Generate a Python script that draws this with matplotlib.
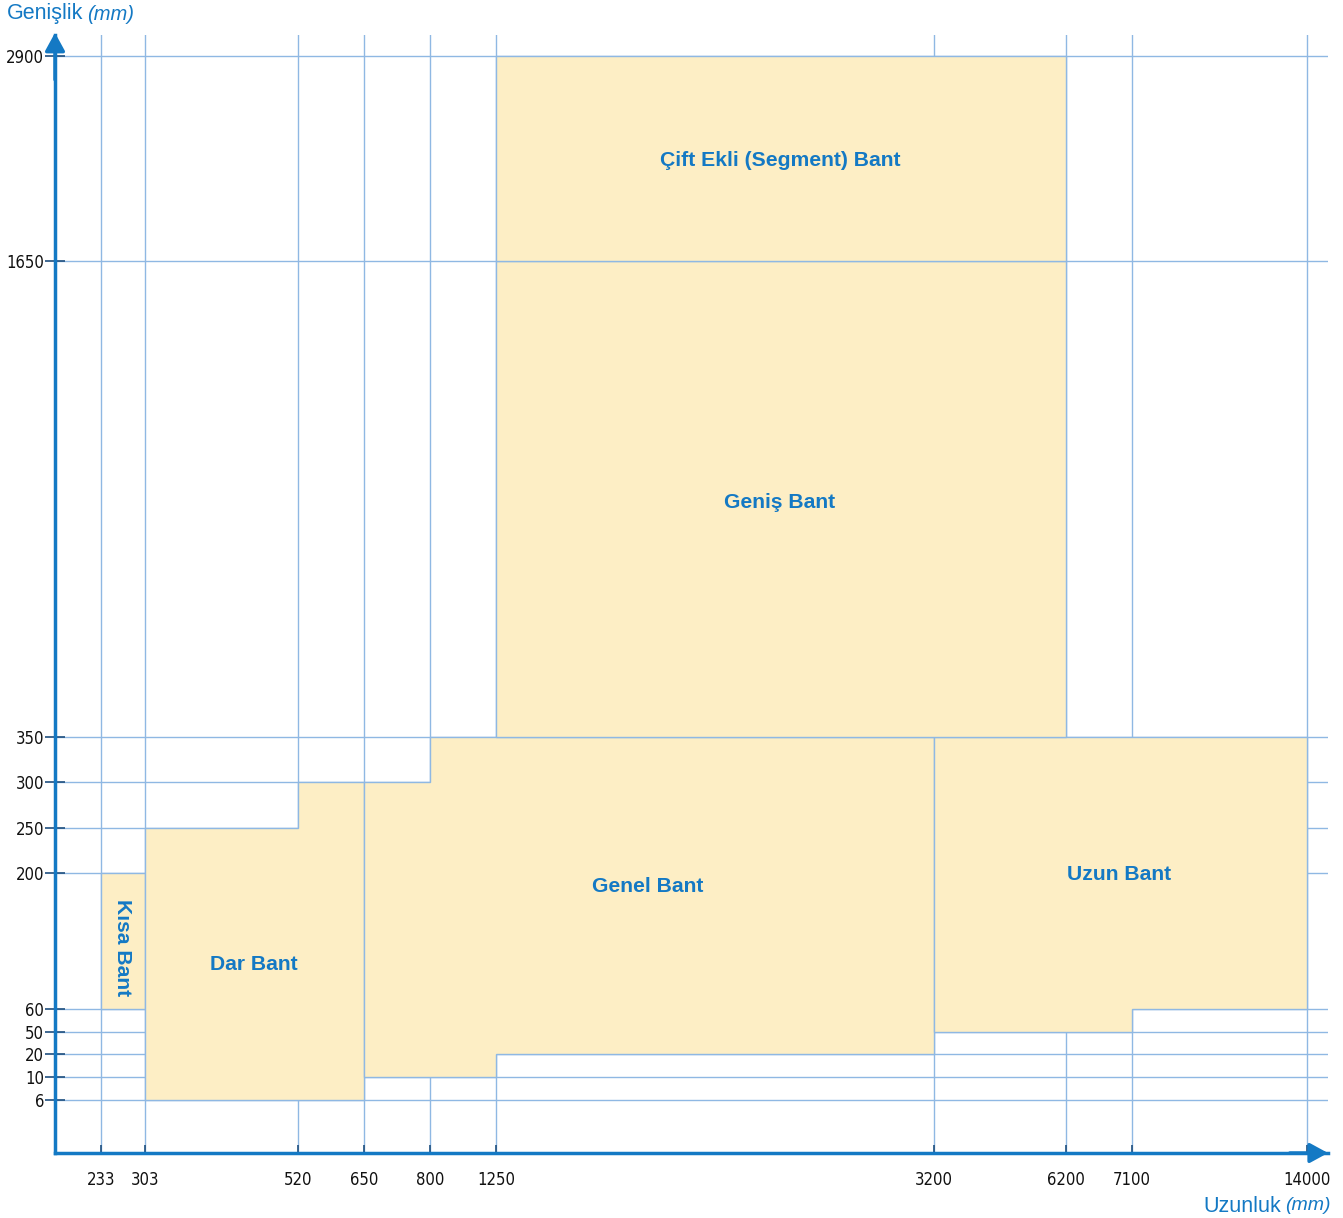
import numpy as np
import matplotlib.pyplot as plt
from matplotlib.patches import Polygon

# tick values on both (non-linear) axes
x_ticks = [233, 303, 520, 650, 800, 1250, 3200, 6200, 7100, 14000]
y_ticks = [6, 10, 20, 50, 60, 200, 250, 300, 350, 1650, 2900]

# region outlines (length, width) in mm
regions = {
    'Kısa Bant': [(233, 60), (303, 60), (303, 200), (233, 200)],
    'Dar Bant': [(303, 6), (650, 6), (650, 300), (520, 300), (520, 250), (303, 250)],
    'Genel Bant': [(650, 10), (1250, 10), (1250, 20), (3200, 20), (3200, 350),
                   (800, 350), (800, 300), (650, 300)],
    'Uzun Bant': [(3200, 50), (7100, 50), (7100, 60), (14000, 60), (14000, 350), (3200, 350)],
    'Geniş Bant': [(1250, 350), (6200, 350), (6200, 1650), (1250, 1650)],
    'Çift Ekli (Segment) Bant': [(1250, 1650), (6200, 1650), (6200, 2900), (1250, 2900)],
}

# where each region name goes (axes fraction) and its rotation
label_pos = {
    'Kısa Bant': (0.0527, 0.1834, -90),
    'Dar Bant': (0.1563, 0.1690, 0),
    'Genel Bant': (0.4658, 0.2387, 0),
    'Uzun Bant': (0.8358, 0.2494, 0),
    'Geniş Bant': (0.5695, 0.5822, 0),
    'Çift Ekli (Segment) Bant': (0.5695, 0.8881, 0),
}

# piecewise mapping of the axes (value -> pixel offset from origin)
x_map_v = [0] + x_ticks + [16000]
x_map_p = [0, 46, 90, 243, 309, 375, 441, 879, 1011, 1077, 1252, 1273]
y_map_v = [0] + y_ticks + [3000]
y_map_p = [0, 53, 76, 99, 121, 144, 280, 325, 371, 416, 892, 1097, 1118]

BLUE = '#1479c4'
GRID = '#8fb8e3'
FILL = '#fdeec5'

fig = plt.figure(figsize=(13.43, 12.18), dpi=100)
ax = fig.add_axes([55 / 1343, 65 / 1218, 1273 / 1343, 1118 / 1218])

ax.set_xscale('function', functions=(lambda v: np.interp(v, x_map_v, x_map_p),
                                     lambda p: np.interp(p, x_map_p, x_map_v)))
ax.set_yscale('function', functions=(lambda v: np.interp(v, y_map_v, y_map_p),
                                     lambda p: np.interp(p, y_map_p, y_map_v)))
ax.set_xlim(0, 16000)
ax.set_ylim(0, 3000)

ax.set_xticks(x_ticks)
ax.set_xticklabels([str(t) for t in x_ticks])
ax.set_yticks(y_ticks)
ax.set_yticklabels([str(t) for t in y_ticks])
ax.minorticks_off()
ax.set_axisbelow(True)
ax.grid(True, color=GRID, linewidth=1.0)

for name, pts in regions.items():
    ax.add_patch(Polygon(pts, closed=True, facecolor=FILL, edgecolor=GRID,
                         linewidth=1.0, zorder=2))
    lx, ly, rot = label_pos[name]
    ax.text(lx, ly, name, transform=ax.transAxes, ha='center', va='center',
            rotation=rot, color=BLUE, fontsize=15.2, fontweight='bold',
            family='Liberation Sans', zorder=3)

for s in ['top', 'right']:
    ax.spines[s].set_visible(False)
for s in ['left', 'bottom']:
    ax.spines[s].set_color(BLUE)
    ax.spines[s].set_linewidth(2.5)
    ax.spines[s].set_zorder(4)

# arrow heads, tip at the end of each axis
head = dict(arrowstyle='-|>,head_length=1.1,head_width=0.6', color=BLUE, lw=2.5,
            shrinkA=0, shrinkB=0)
ax.annotate('', xy=(1, 0), xytext=(0.97, 0), xycoords='axes fraction',
            arrowprops=head, annotation_clip=False, zorder=5)
ax.annotate('', xy=(0, 1.002), xytext=(0, 0.96), xycoords='axes fraction',
            arrowprops=head, annotation_clip=False, zorder=5)

ax.tick_params(axis='y', direction='inout', length=14, width=1.2, color='#1f4f7f',
               labelsize=12, labelcolor='#111111', pad=1)
ax.tick_params(axis='x', direction='in', length=6, width=1.2, color='#1f4f7f',
               labelsize=12, labelcolor='#111111', pad=13)
for lab in ax.get_xticklabels() + ax.get_yticklabels():
    lab.set_family('DejaVu Sans')
    lab.set_stretch('condensed')

fig.text(83 / 1343, 1 - 14 / 1218, 'Genişlik', ha='right', va='center',
         color=BLUE, fontsize=15.5, family='Liberation Sans')
fig.text(87 / 1343, 1 - 14 / 1218, '(mm)', ha='left', va='center',
         color=BLUE, fontsize=14.5, style='italic', family='Liberation Sans')
fig.text(1281 / 1343, 1 - 1206 / 1218, 'Uzunluk', ha='right', va='center',
         color=BLUE, fontsize=15.5, family='Liberation Sans')
fig.text(1331 / 1343, 1 - 1206 / 1218, '(mm)', ha='right', va='center',
         color=BLUE, fontsize=14, style='italic', family='Liberation Sans')

fig.savefig('out.png', dpi=100)
